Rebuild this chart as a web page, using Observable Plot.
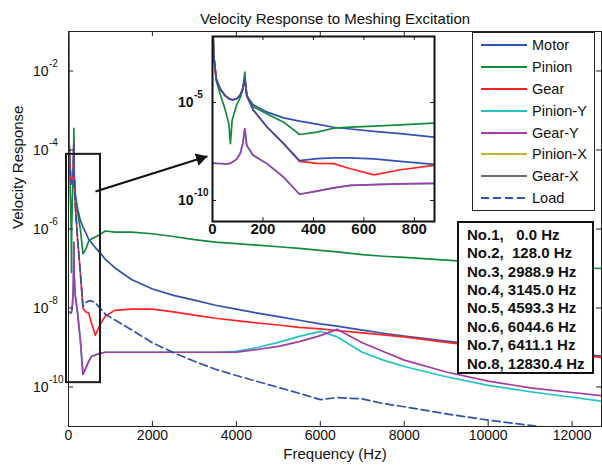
<!DOCTYPE html>
<html>
<head>
<meta charset="utf-8">
<script src="https://cdn.jsdelivr.net/npm/d3@7"></script>
<script src="https://cdn.jsdelivr.net/npm/@observablehq/plot@0.6"></script>
<style>
  body { margin: 0; background: #fff; }
  #fig { position: relative; width: 602px; height: 471px; font-family: "Liberation Sans", Arial, Helvetica, sans-serif; color: #111; overflow: hidden; }
  .legend { position: absolute; left: 472px; top: 32px; width: 121px; height: 177px; border: 1px solid #222; background: #fff; }
  .legend .row { position: absolute; left: 0; width: 121px; height: 22px; }
  .legend svg { position: absolute; left: 8px; top: 0; }
  .legend span { position: absolute; left: 59px; top: 0; line-height: 22px; font-size: 14.5px; }
  .modes { position: absolute; left: 457px; top: 221px; width: 125px; height: 146.2px; border: 2px solid #111; background: #fff; padding: 2.8px 0 0 8px; font-weight: bold; font-size: 15px; line-height: 18.4px; white-space: pre; }
</style>
</head>
<body>
<div id="fig"></div>
<script>
// ---------------- data (log10 of velocity response) ----------------
const freq = [0, 5, 15, 30, 50, 65, 71, 78, 95, 110, 120, 128, 136, 160, 217, 282, 345, 414, 480, 547,
              640, 745, 880, 1100, 1500, 2000, 2500, 3000, 3500, 4000, 4500, 5000, 5500, 6000, 6400, 7000,
              7500, 8000, 9000, 10000, 11000, 12000, 12700];

const motorExp = [-0.5, -2.6, -3.8, -4.3, -4.65, -4.8, -4.83, -4.86, -4.82, -4.62, -4.3, -3.8, -4.65, -5.1, -5.49, -5.78, -5.95, -6.1, -6.26, -6.35,
                  -6.47, -6.59, -6.77, -6.98, -7.28, -7.52, -7.68, -7.8, -7.93, -8.03, -8.13, -8.22, -8.31, -8.40, -8.46, -8.56,
                  -8.64, -8.71, -8.84, -8.96, -9.06, -9.15, -9.22];
const pinionExp = [-0.5, -2.6, -3.9, -4.55, -5.35, -6.1, -7.1, -5.9, -5.15, -4.75, -4.3, -3.45, -4.7, -5.2, -5.58, -6.0, -6.63, -6.51, -6.31, -6.25,
                   -6.2, -6.14, -6.05, -6.08, -6.08, -6.12, -6.19, -6.27, -6.33, -6.37, -6.41, -6.45, -6.49, -6.54, -6.58, -6.65,
                   -6.69, -6.72, -6.79, -6.86, -6.93, -6.98, -7.0];
const gearExp = [-0.5, -2.6, -3.8, -4.3, -4.65, -4.8, -4.83, -4.86, -4.82, -4.62, -4.3, -3.8, -4.64, -5.35, -6.26, -7.1, -8.0, -8.1, -8.12, -8.38,
                 -8.69, -8.43, -8.2, -8.06, -8.03, -8.03, -8.1, -8.18, -8.26, -8.32, -8.38, -8.43, -8.49, -8.53, -8.57, -8.63,
                 -8.68, -8.73, -8.87, -8.99, -9.09, -9.18, -9.25];
const pinionYExp = [-8.09, -8.09, -8.1, -8.11, -8.13, -8.12, -8.1, -8.05, -7.9, -7.6, -7.1, -6.34, -7.2, -7.68, -8.13, -8.81, -9.68, -9.52, -9.35, -9.23,
                    -9.19, -9.15, -9.12, -9.12, -9.12, -9.12, -9.12, -9.12, -9.12, -9.1, -9.0, -8.87, -8.72, -8.59, -8.73, -9.12,
                    -9.32, -9.48, -9.74, -9.96, -10.12, -10.26, -10.36];
const gearYExp = [-8.09, -8.09, -8.1, -8.11, -8.13, -8.12, -8.1, -8.05, -7.9, -7.6, -7.1, -6.34, -7.2, -7.68, -8.13, -8.81, -9.68, -9.52, -9.35, -9.23,
                  -9.19, -9.15, -9.12, -9.12, -9.12, -9.12, -9.12, -9.12, -9.12, -9.12, -9.05, -8.97, -8.85, -8.7, -8.54, -8.88,
                  -9.1, -9.32, -9.62, -9.85, -10.02, -10.14, -10.22];
const loadExp = [-0.5, -2.6, -3.8, -4.3, -4.65, -4.8, -4.83, -4.86, -4.82, -4.62, -4.3, -3.8, -4.64, -5.35, -6.26, -7.1, -7.96, -7.86, -7.82, -7.82,
                 -7.87, -8.0, -8.16, -8.3, -8.55, -8.88, -9.13, -9.35, -9.55, -9.71, -9.86, -10.01, -10.16, -10.32, -10.27, -10.3,
                 -10.42, -10.5, -10.68, -10.84, -10.97, -11.1, -11.2];

const seriesNames = ["Motor", "Pinion", "Gear", "Pinion-Y", "Gear-Y", "Pinion-X", "Gear-X", "Load"];
const seriesExps  = [motorExp, pinionExp, gearExp, pinionYExp, gearYExp, null, null, loadExp];

const xTicks = [0, 2000, 4000, 6000, 8000, 10000, 12000];
const yTickExps = [-2, -4, -6, -8, -10];
const insetXTicks = [0, 200, 400, 600, 800];
const insetYTickExps = [-5, -10];

const modeLabels = ["No.1,   0.0 Hz", "No.2,  128.0 Hz", "No.3, 2988.9 Hz", "No.4, 3145.0 Hz",
                    "No.5, 4593.3 Hz", "No.6, 6044.6 Hz", "No.7, 6411.1 Hz", "No.8, 12830.4 Hz"];

const titleText = "Velocity Response to Meshing Excitation";
const xLabelText = "Frequency (Hz)";
const yLabelText = "Velocity Response";

// annotation: zoom box and arrow (data coordinates)
const zoomBox = {f1: -48, f2: 762, e1: -9.89, e2: -4.11};
const arrowSpec = {f1: 643, e1: -5.05, f2: 3310, e2: -4.16};

// ---------------- styles ----------------
const seriesColors = ["#3152b0", "#138a3e", "#ff2424", "#22c3c3", "#a23ca6", "#c2b62a", "#6e6e6e", "#3152b0"];
const seriesDash   = [null, null, null, null, null, null, null, "8,4"];
const FONT = '"Liberation Sans", Arial, Helvetica, sans-serif';

// ---------------- build table ----------------
const rows = [];
seriesNames.forEach((name, i) => {
  const ex = seriesExps[i];
  if (!ex) return;
  freq.forEach((f, j) => rows.push({series: name, f, v: Math.pow(10, ex[j])}));
});
const lineMarks = (inset) => seriesNames.map((name, i) => seriesExps[i] ? Plot.line(rows.filter(r => r.series === name), {
  x: "f", y: "v", stroke: seriesColors[i], strokeWidth: 1.7,
  strokeDasharray: inset ? null : seriesDash[i], clip: true
}) : null).filter(Boolean);

const fig = document.getElementById("fig");

// ---------------- main plot ----------------
const W = 602, H = 471, mL = 68, mR = 1, mT = 31, mB = 45;
const fw = W - mL - mR, fh = H - mT - mB;
const yTicks = yTickExps.map(e => Math.pow(10, e));

// arrow-head geometry (screen direction of the arrow, from the scales)
const xs = d3.scaleLinear([0, 12700], [mL, W - mR]);
const ys = d3.scaleLog([1e-11, 1e-1], [H - mB, mT]);
const adx = xs(arrowSpec.f2) - xs(arrowSpec.f1), ady = ys(Math.pow(10, arrowSpec.e2)) - ys(Math.pow(10, arrowSpec.e1));
const alen = Math.hypot(adx, ady), ux = adx / alen, uy = ady / alen;
const headR = 4.8, headBack = 1.555 * headR;
const headRot = Math.atan2(uy, ux) * 180 / Math.PI + 90;

const main = Plot.plot({
  width: W, height: H, marginLeft: mL, marginRight: mR, marginTop: mT, marginBottom: mB,
  style: {fontFamily: FONT, fontSize: "14px", background: "white", color: "#111"},
  x: {domain: [0, 12700], axis: null},
  y: {type: "log", domain: [1e-11, 1e-1], axis: null},
  marks: [
    ...lineMarks(false),
    Plot.rect([zoomBox], {x1: "f1", x2: "f2", y1: d => Math.pow(10, d.e1), y2: d => Math.pow(10, d.e2), fill: "none", stroke: "#1a1a1a", strokeWidth: 2}),
    Plot.link([arrowSpec], {x1: "f1", y1: d => Math.pow(10, d.e1), x2: "f2", y2: d => Math.pow(10, d.e2), stroke: "#111", strokeWidth: 2}),
    Plot.dot([arrowSpec], {x: "f2", y: d => Math.pow(10, d.e2), symbol: "triangle", r: headR, rotate: headRot,
      dx: -ux * headBack, dy: -uy * headBack, fill: "#111", stroke: "none"}),
    Plot.frame({stroke: "#222", strokeWidth: 1}),
    Plot.tickX(xTicks, {x: d => d, insetTop: fh - 5, stroke: "#222"}),
    Plot.tickX(xTicks, {x: d => d, insetBottom: fh - 5, stroke: "#222"}),
    Plot.tickY(yTicks, {y: d => d, insetRight: fw - 5, stroke: "#222"}),
    Plot.tickY(yTicks, {y: d => d, insetLeft: fw - 5, stroke: "#222"}),
    Plot.text(xTicks, {x: d => d, frameAnchor: "bottom", dy: 13, text: d => String(d), fontSize: 14, fill: "#111"}),
    Plot.text(yTicks, {y: d => d, frameAnchor: "left", dx: -20, dy: 1, textAnchor: "end", text: () => "10", fontSize: 14, fill: "#111"}),
    Plot.text(yTickExps, {y: e => Math.pow(10, e), frameAnchor: "left", dx: -19.5, dy: -7, textAnchor: "start", text: e => String(e), fontSize: 10, fill: "#111"}),
    Plot.text([xLabelText], {frameAnchor: "bottom", dy: 32, text: d => d, fontSize: 15, fill: "#111"}),
    Plot.text([yLabelText], {frameAnchor: "left", dx: -50.5, rotate: -90, text: d => d, fontSize: 15, fill: "#111"}),
    Plot.text([titleText], {frameAnchor: "top", dy: -18, text: d => d, fontSize: 15, fill: "#111"})
  ]
});
fig.appendChild(main);

// ---------------- inset plot ----------------
const iW = 269, iH = 209, iL = 45, iR = 2, iT = 2, iB = 22;
const ifw = iW - iL - iR, ifh = iH - iT - iB;
const insetYTicks = insetYTickExps.map(e => Math.pow(10, e));
const inset = Plot.plot({
  width: iW, height: iH, marginLeft: iL, marginRight: iR, marginTop: iT, marginBottom: iB,
  style: {position: "absolute", left: "167px", top: "34px", background: "transparent", overflow: "visible", fontFamily: FONT, fontSize: "14px", color: "#111"},
  x: {domain: [0, 880], axis: null},
  y: {type: "log", domain: [Math.pow(10, -11.07), Math.pow(10, -1.63)], axis: null},
  marks: [
    Plot.frame({fill: "white", stroke: "none"}),
    ...lineMarks(true),
    Plot.tickX(insetXTicks, {x: d => d, insetTop: ifh - 4, stroke: "#222"}),
    Plot.tickX(insetXTicks, {x: d => d, insetBottom: ifh - 4, stroke: "#222"}),
    Plot.tickY(insetYTicks, {y: d => d, insetRight: ifw - 4, stroke: "#222"}),
    Plot.tickY(insetYTicks, {y: d => d, insetLeft: ifw - 4, stroke: "#222"}),
    Plot.frame({stroke: "#111", strokeWidth: 2}),
    Plot.text(insetXTicks, {x: d => d, frameAnchor: "bottom", dy: 12, text: d => String(d), fontSize: 15, fontWeight: "bold", fill: "#111"}),
    Plot.text(insetYTicks, {y: d => d, frameAnchor: "left", dx: -19, dy: 0, textAnchor: "end", text: () => "10", fontSize: 14, fontWeight: "bold", fill: "#111"}),
    Plot.text(insetYTickExps, {y: e => Math.pow(10, e), frameAnchor: "left", dx: -18.5, dy: -8, textAnchor: "start", text: e => String(e), fontSize: 10, fontWeight: "bold", fill: "#111"})
  ]
});
fig.appendChild(inset);

// ---------------- legend ----------------
const legend = document.createElement("div");
legend.className = "legend";
seriesNames.forEach((name, i) => {
  const row = document.createElement("div");
  row.className = "row";
  row.style.top = (1.4 + i * 21.8) + "px";
  const dash = seriesDash[i] ? `stroke-dasharray="${seriesDash[i].replace(',', ' ')}"` : "";
  row.innerHTML = `<svg width="46" height="22"><line x1="0" x2="46" y1="11" y2="11" stroke="${seriesColors[i]}" stroke-width="1.8" ${dash}/></svg><span>${name}</span>`;
  legend.appendChild(row);
});
fig.appendChild(legend);

// ---------------- modes box ----------------
const modes = document.createElement("div");
modes.className = "modes";
modes.textContent = modeLabels.join("\n");
fig.appendChild(modes);
</script>
</body>
</html>
